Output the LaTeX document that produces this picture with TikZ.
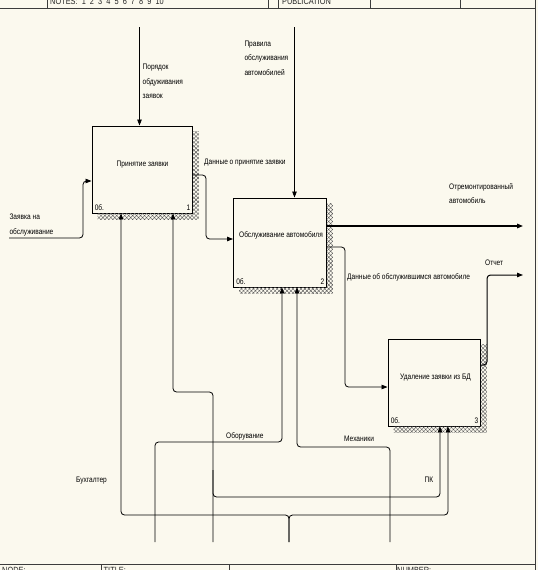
\documentclass[tikz,border=0pt]{standalone}
\usepackage{fontspec}
\setmainfont{Liberation Sans}[FakeStretch=0.82]
\usetikzlibrary{arrows.meta,calc,patterns.meta}
\definecolor{bgc}{RGB}{251,249,238}
\definecolor{framec}{RGB}{60,60,60}
\tikzset{
  box/.style={draw=black, line width=0.9pt, fill=bgc, inner sep=0pt},
  shade/.style={pattern={Hatch[angle=45,distance=2.8pt,line width=0.4pt]}, pattern color=black!65},
  conn/.style={draw=black, line width=0.8pt, rounded corners=3.5pt, -{Triangle[length=6pt,width=4.5pt]}},
  wire/.style={draw=black, line width=0.8pt, rounded corners=3.5pt},
  lbl/.style={font=\fontsize{8}{14.7}\selectfont, inner sep=0pt, align=left},
  frm/.style={draw=framec, line width=0.9pt},
  hdr/.style={font=\fontsize{9}{10}\selectfont, inner sep=0pt, anchor=base west, text=black!85}
}
\begin{document}
\begin{tikzpicture}[x=1pt,y=-1pt]
\path[use as bounding box, fill=bgc] (0,0) rectangle (538,570);
\clip (0,0) rectangle (538,570);

% frame
\draw[frm] (0,8.6) -- (535,8.6);
\draw[frm] (535,0) -- (535,570);
\draw[frm] (0,564.5) -- (535,564.5);
\foreach \xx in {47.6,268,278,370,460} \draw[frm] (\xx,0) -- (\xx,8.6);
\foreach \xx in {101,229,396} \draw[frm] (\xx,564.5) -- (\xx,570);
\node[hdr] (hnotes) at (50,4.5) {NOTES:\ \ 1\ \ 2\ \ 3\ \ 4\ \ 5\ \ 6\ \ 7\ \ 8\ \ 9\ \ 10};
\node[hdr] (hpub) at (282,4.5) {PUBLICATION};
\node[hdr] (fnode) at (2,573) {NODE:};
\node[hdr] (ftitle) at (103.5,573) {TITLE:};
\node[hdr] (fnum) at (397,573) {NUMBER:};

% boxes
\node[box, minimum width=100pt, minimum height=87pt] (b1) at (142,169.5) {};
\node[box, minimum width=92.5pt, minimum height=89pt] (b2) at (279.75,242.5) {};
\node[box, minimum width=92pt, minimum height=87pt] (b3) at (434,382.5) {};

% shadows
\foreach \b in {b1,b2,b3}{
  \fill[shade] ($(\b.north east)+(0.5,6)$) rectangle ($(\b.south east)+(6.5,6.5)$);
  \fill[shade] ($(\b.south west)+(6,0.5)$) rectangle ($(\b.south east)+(0.5,6.5)$);
}

% box texts
\node[lbl, anchor=base] (t1) at (142.5,166) {Принятие заявки};
\node[lbl, anchor=base] (t2) at (281,237.5) {Обслуживание автомобиля};
\node[lbl, anchor=base] (t3) at (435.5,379) {Удаление заявки из БД};
\foreach \b/\n in {b1/1,b2/2,b3/3}{
  \node[lbl, anchor=base west] (\b o) at ($(\b.south west)+(3,-3)$) {0б.};
  \node[lbl, anchor=base east] (\b n) at ($(\b.south east)+(-2,-3)$) {\n};
}

% controls
\coordinate (c1) at (139.5,27);
\coordinate (c2) at (294.5,27);
\draw[conn] (c1) -- (c1 |- b1.north);
\draw[conn] (c2) -- (c2 |- b2.north);
\node[lbl, anchor=north west] (lc1) at (142.5,63.8) {Порядок\\обдуживания\\заявок};
\node[lbl, anchor=north west] (lc2) at (244.3,40.4) {Правила\\обслуживания\\автомобилей};

% input
\coordinate (i1) at (9,238);
\coordinate (i1y) at (0,181);
\draw[conn] (i1) -- (83,238) -- (83,181) -- (b1.west |- i1y);
\node[lbl, anchor=north west] (li1) at (9.3,213.8) {Заявка на\\обслуживание};

% box1 -> box2
\coordinate (o1y) at (0,175);
\coordinate (i2y) at (0,239);
\draw[conn] (b1.east |- o1y) -- (206,175) -- (206,239) -- (b2.west |- i2y);
\node[lbl, anchor=base west] (lo1) at (204,164) {Данные о принятие заявки};

% box2 outputs
\coordinate (o2y) at (0,226);
\coordinate (e1) at (523,226);
\draw[conn, line width=1.4pt] (b2.east |- o2y) -- (e1);
\node[lbl, anchor=north west] (lo2) at (449,183.1) {Отремонтированный\\автомобиль};

\coordinate (o3y) at (0,247);
\coordinate (i3y) at (0,387);
\draw[conn] (b2.east |- o3y) -- (345,247) -- (345,387) -- (b3.west |- i3y);
\node[lbl, anchor=base west] (lo3) at (347,279) {Данные об обслужившимся автомобиле};

% box3 output
\coordinate (o4y) at (0,365);
\coordinate (e2) at (523,275);
\draw[conn, line width=1pt] (b3.east |- o4y) -- (487,365) -- (487,275) -- (e2);
\node[lbl, anchor=base west] (lo4) at (485,265) {Отчет};

% mechanisms
\coordinate (m1) at (155,542);
\coordinate (m1x) at (282,0);
\draw[conn] (m1) -- (155,442) -- (282,442) -- (m1x |- b2.south);
\node[lbl, anchor=base west] (lm1) at (226,438) {Оборувание};

\coordinate (m2) at (390,542);
\coordinate (m2x) at (297,0);
\draw[conn] (m2) -- (390,447) -- (297,447) -- (m2x |- b2.south);
\node[lbl, anchor=base west] (lm2) at (344,441.5) {Механики};

\coordinate (m3) at (213,542);
\coordinate (m3x) at (173,0);
\coordinate (m3b) at (213,470);
\coordinate (m3y) at (440,0);
\draw[conn] (m3) -- (213,392) -- (173,392) -- (m3x |- b1.south);
\draw[conn] (m3b) -- (213,497) -- (440,497) -- (m3y |- b3.south);
\node[lbl, anchor=base west] (lm3) at (424.5,482) {ПК};

\coordinate (m4) at (289,542);
\coordinate (m4x) at (121,0);
\coordinate (m4y) at (448,0);
\draw[conn] (m4) -- (289,515) -- (121,515) -- (m4x |- b1.south);
\draw[conn] (m4) -- (289,515) -- (448,515) -- (m4y |- b3.south);
\node[lbl, anchor=base west] (lm4) at (76,482) {Бухгалтер};
\end{tikzpicture}
\end{document}
